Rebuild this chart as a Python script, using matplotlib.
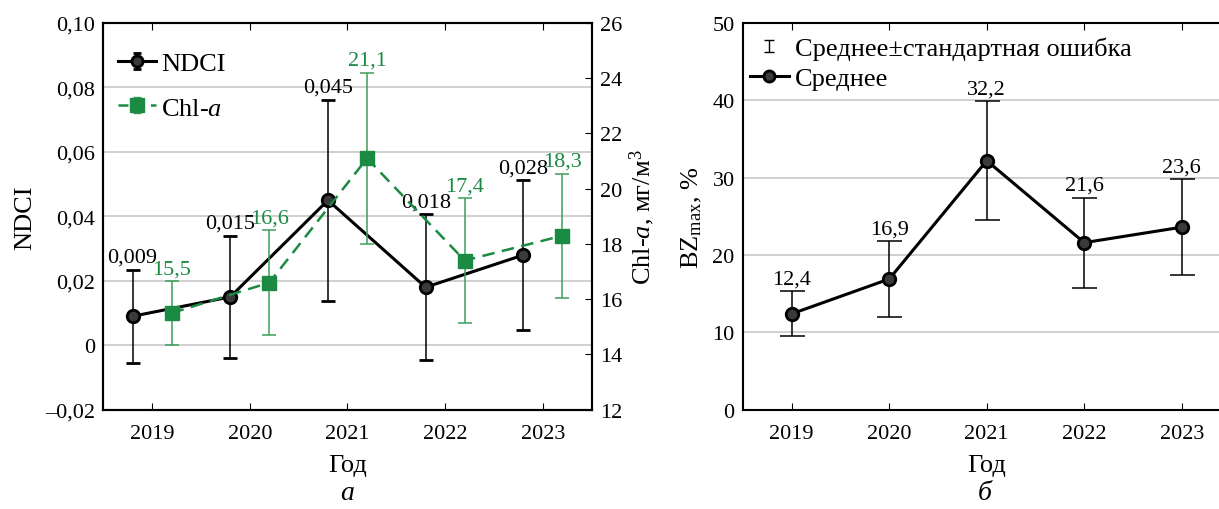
import numpy as np
import matplotlib
matplotlib.use('Agg')
from matplotlib import pyplot as plt
from matplotlib.container import ErrorbarContainer
from matplotlib.legend_handler import HandlerErrorbar

plt.rcParams['font.family'] = 'Liberation Serif'
plt.rcParams['mathtext.fontset'] = 'custom'
plt.rcParams['mathtext.rm'] = 'Liberation Serif'
plt.rcParams['mathtext.it'] = 'Liberation Serif:italic'
plt.rcParams['axes.unicode_minus'] = False

# Годы наблюдений
years = np.array([2019, 2020, 2021, 2022, 2023])

# NDCI: среднее и стандартная ошибка
ndci = np.array([0.009, 0.015, 0.045, 0.018, 0.028])
ndci_se = np.array([0.0145, 0.0190, 0.0312, 0.0227, 0.0232])
ndci_lbl = ['0,009', '0,015', '0,045', '0,018', '0,028']

# Chl-a, мг/м3
chl = np.array([15.5, 16.6, 21.1, 17.4, 18.3])
chl_se = np.array([1.15, 1.90, 3.10, 2.25, 2.24])
chl_lbl = ['15,5', '16,6', '21,1', '17,4', '18,3']

# BZmax, %
bz = np.array([12.4, 16.9, 32.2, 21.6, 23.6])
bz_se = np.array([2.9, 4.85, 7.7, 5.8, 6.2])
bz_lbl = ['12,4', '16,9', '32,2', '21,6', '23,6']

green = '#1b8a42'
green_err = '#3d9e5c'
fs = 16      # подписи делений и значений
fl = 19      # подписи осей и легенды

W, H = 1219, 510
fig = plt.figure(figsize=(W/100, H/100), dpi=100)
ax1 = fig.add_axes([103.3/W, (H-410.7)/H, 488.4/W, 386.7/H])
ax2 = fig.add_axes([743/W, (H-410.7)/H, 487.5/W, 386.7/H])
ax1b = ax1.twinx()

dx = 0.2
# NDCI
ax1.errorbar(years-dx, ndci, ndci_se, fmt='o-', color='black', lw=2.2, ms=9, mfc='#3a3a3a',
             mec='black', mew=2, ecolor='black', elinewidth=1.1, capsize=5, capthick=1.1, zorder=5)
for x, y, s, t in zip(years-dx, ndci, ndci_se, ndci_lbl):
    ax1.annotate(t, (x, y+s), xytext=(0, 2), textcoords='offset points', ha='center', va='bottom',
                 fontsize=fs, color='black')
# Chl-a
ax1b.errorbar(years+dx, chl, chl_se, fmt='s--', color=green, lw=1.8, dashes=(5, 3), ms=10,
              ecolor=green_err, elinewidth=1.1, capsize=5, capthick=1.1, zorder=5)
for x, y, s, t in zip(years+dx, chl, chl_se, chl_lbl):
    ax1b.annotate(t, (x, y+s), xytext=(0, 2), textcoords='offset points', ha='center', va='bottom',
                  fontsize=fs, color=green)

# маркеры для легенды с короткими усами
h1 = ax1.errorbar([np.nan], [np.nan], [1], fmt='o-', color='black', lw=2.2, ms=8, mfc='#3a3a3a',
                  mec='black', mew=2, ecolor='black', elinewidth=1, capsize=3)
h2 = ax1.errorbar([np.nan], [np.nan], [1], fmt='s--', color=green, lw=1.8, dashes=(4, 2.5), ms=10,
                  ecolor=green_err, elinewidth=1, capsize=3)

ax1.set_xlim(2018.5, 2023.5)
ax1.set_ylim(-0.02, 0.10)
ax1.set_yticks(np.arange(-0.02, 0.1001, 0.02))
ax1.set_yticklabels(['–0,02', '0', '0,02', '0,04', '0,06', '0,08', '0,10'])
ax1.set_xticks(years)
ax1.grid(axis='y', color='#c8c8c8', lw=1.2, zorder=0)
ax1.set_axisbelow(True)
ax1.set_ylabel('NDCI', fontsize=fl, labelpad=6)
ax1.set_xlabel('Год', fontsize=fl, labelpad=8)
ax1.tick_params(axis='x', direction='in', top=True, length=5, labelsize=fs, pad=10)
ax1.tick_params(axis='y', direction='in', length=0, labelsize=fs, pad=6)

ax1b.set_ylim(12, 26)
ax1b.set_yticks(np.arange(12, 26.1, 2))
ax1b.set_ylabel('Chl-$a$, мг/м$^3$', fontsize=fl, labelpad=4)
ax1b.tick_params(axis='y', direction='in', length=5, labelsize=fs, pad=6)

for a in (ax1, ax1b, ax2):
    for sp in a.spines.values():
        sp.set_linewidth(1.5)

ax1.legend([h1, h2], ['NDCI', 'Chl-$a$'], loc='upper left', frameon=False, fontsize=fl,
           handlelength=1.45, handletextpad=0.2, labelspacing=0.78, borderaxespad=0, borderpad=0,
           bbox_to_anchor=(0.03, 0.925),
           handler_map={ErrorbarContainer: HandlerErrorbar(yerr_size=0.3)})

# BZmax
ax2.errorbar(years, bz, bz_se, fmt='none', ecolor='black', elinewidth=1.1, capsize=9,
             capthick=1.1, zorder=4)
ax2.plot(years, bz, 'o-', color='black', lw=2.2, ms=9, mfc='#3a3a3a', mec='black', mew=2, zorder=5)
for x, y, s, t in zip(years, bz, bz_se, bz_lbl):
    ax2.annotate(t, (x, y+s), xytext=(0, 2), textcoords='offset points', ha='center', va='bottom',
                 fontsize=fs)
h3 = ax2.errorbar([np.nan], [np.nan], [1], fmt='none', ecolor='black', elinewidth=1, capsize=3.5)
h4, = ax2.plot([np.nan], [np.nan], 'o-', color='black', lw=2.2, ms=8, mfc='#3a3a3a', mec='black',
               mew=2)

ax2.set_xlim(2018.5, 2023.5)
ax2.set_ylim(0, 50)
ax2.set_yticks(np.arange(0, 51, 10))
ax2.set_xticks(years)
ax2.grid(axis='y', color='#c8c8c8', lw=1.2, zorder=0)
ax2.set_axisbelow(True)
ax2.set_ylabel(r'BZ$_{\mathrm{max}}$, %', fontsize=fl, labelpad=6)
ax2.set_xlabel('Год', fontsize=fl, labelpad=8)
ax2.tick_params(axis='x', direction='in', top=True, length=5, labelsize=fs, pad=10)
ax2.tick_params(axis='y', direction='in', length=0, labelsize=fs, pad=6)
ax2.legend([h3, h4], ['Среднее±стандартная ошибка', 'Среднее'], loc='upper left', frameon=False,
           fontsize=fl, handlelength=1.45, handletextpad=0.25, labelspacing=0.25,
           borderaxespad=0, borderpad=0, bbox_to_anchor=(0.015, 0.965),
           handler_map={ErrorbarContainer: HandlerErrorbar(yerr_size=0.22)})

fig.text(ax1.get_position().x0 + ax1.get_position().width/2, 10/H, 'а', style='italic',
         fontsize=20, ha='center', va='baseline')
fig.text(ax2.get_position().x0 + 242/W, 10/H, 'б', style='italic', fontsize=20, ha='center',
         va='baseline')

fig.savefig('out.png', dpi=100)
